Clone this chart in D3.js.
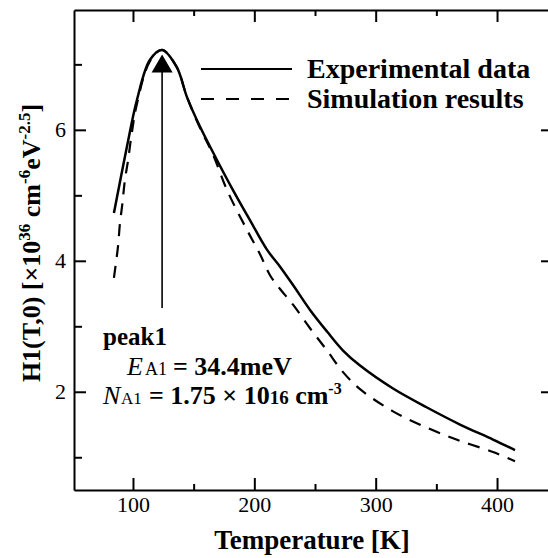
<!DOCTYPE html>
<html>
<head>
<meta charset="utf-8">
<script src="https://cdn.jsdelivr.net/npm/d3@7"></script>
<style>
  body { margin: 0; background: #fff; }
  svg { display: block; font-family: "Liberation Serif", "Times New Roman", serif; }
</style>
</head>
<body>
<svg></svg>
<script>
const width = 548;
const height = 558;

// experimental curve
const expT = [84.3, 95, 103.3, 114, 124, 136, 144.5, 155.2, 169.2, 182.4, 196.4, 210.4, 221.2, 231.9, 245.9, 259.9, 273.1, 287.1, 314.3, 342.3, 369.5, 396.7, 414.8];
const expH = [4.73, 5.74, 6.46, 7.07, 7.22, 6.96, 6.5, 6.05, 5.54, 5.08, 4.62, 4.17, 3.91, 3.63, 3.25, 2.92, 2.63, 2.4, 2.05, 1.76, 1.5, 1.27, 1.11];

// simulation curve
const simT = [84.3, 87.6, 89.3, 91, 93.4, 96, 99, 103.3, 114, 124, 136, 144.5, 155.2, 166, 177.5, 194, 204.7, 212.9, 221.2, 231.9, 245.9, 259.9, 273.1, 287.1, 314.3, 342.3, 369.5, 396.7, 414.8];
const simH = [3.74, 4.21, 4.58, 4.83, 5.24, 5.54, 5.95, 6.4, 7.05, 7.22, 6.96, 6.5, 6.03, 5.62, 5.08, 4.47, 4.1, 3.78, 3.57, 3.33, 2.97, 2.63, 2.3, 2.04, 1.7, 1.45, 1.25, 1.08, 0.94];

const xMajor = [100, 200, 300, 400];
const xMinor = [150, 250, 350];
const yMajor = [2, 4, 6];
const yMinor = [1, 3, 5, 7];

const peakT = 124;
const arrowFrom = 3.28;
const arrowTo = 7.15;

const svg = d3.select('svg')
    .attr('width', width)
    .attr('height', height);

const x = d3.scaleLinear().domain([51.4, 442]).range([74, 548]);
const y = d3.scaleLinear().domain([0.5, 7.83]).range([490, 10]);

const tickFont = g => g.selectAll('text')
    .attr('font-family', '"Liberation Serif", serif')
    .attr('font-size', 22)
    .attr('fill', '#000');

// bottom axis
svg.append('g')
    .attr('transform', 'translate(0,490)')
    .call(d3.axisBottom(x).tickValues(xMajor).tickSize(-12).tickSizeOuter(0).tickPadding(6))
    .call(tickFont)
    .call(g => g.selectAll('line, path').attr('stroke', '#000').attr('stroke-width', 2));
svg.append('g')
    .attr('transform', 'translate(0,490)')
    .call(d3.axisBottom(x).tickValues(xMinor).tickSize(-6).tickFormat(''))
    .call(g => g.select('.domain').remove())
    .call(g => g.selectAll('line').attr('stroke', '#000').attr('stroke-width', 2));

// top axis
svg.append('g')
    .attr('transform', 'translate(0,10)')
    .call(d3.axisTop(x).tickValues(xMajor).tickSize(-12).tickSizeOuter(0).tickFormat(''))
    .call(g => g.selectAll('line, path').attr('stroke', '#000').attr('stroke-width', 2));
svg.append('g')
    .attr('transform', 'translate(0,10)')
    .call(d3.axisTop(x).tickValues(xMinor).tickSize(-6).tickFormat(''))
    .call(g => g.select('.domain').remove())
    .call(g => g.selectAll('line').attr('stroke', '#000').attr('stroke-width', 2));

// left axis
svg.append('g')
    .attr('transform', 'translate(74,0)')
    .call(d3.axisLeft(y).tickValues(yMajor).tickSize(-12).tickSizeOuter(0).tickPadding(8))
    .call(tickFont)
    .call(g => g.selectAll('line, path').attr('stroke', '#000').attr('stroke-width', 2));
svg.append('g')
    .attr('transform', 'translate(74,0)')
    .call(d3.axisLeft(y).tickValues(yMinor).tickSize(-8).tickFormat(''))
    .call(g => g.select('.domain').remove())
    .call(g => g.selectAll('line').attr('stroke', '#000').attr('stroke-width', 2));

// right side ticks (axis line falls at the edge)
svg.append('g')
    .attr('transform', 'translate(548,0)')
    .call(d3.axisRight(y).tickValues(yMajor).tickSize(-7).tickFormat(''))
    .call(g => g.select('.domain').remove())
    .call(g => g.selectAll('line').attr('stroke', '#000').attr('stroke-width', 2));

// curves
const line = d3.line()
    .x(d => x(d[0]))
    .y(d => y(d[1]))
    .curve(d3.curveCatmullRom.alpha(0.5));

svg.append('path')
    .datum(simT.map((t, i) => [t, simH[i]]))
    .attr('d', line)
    .attr('fill', 'none')
    .attr('stroke', '#000')
    .attr('stroke-width', 2.2)
    .attr('stroke-dasharray', '12,9');

svg.append('path')
    .datum(expT.map((t, i) => [t, expH[i]]))
    .attr('d', line)
    .attr('fill', 'none')
    .attr('stroke', '#000')
    .attr('stroke-width', 2.5);

// arrow to the peak
const ax = x(peakT);
svg.append('line')
    .attr('x1', ax).attr('x2', ax)
    .attr('y1', y(arrowFrom)).attr('y2', y(arrowTo) + 16)
    .attr('stroke', '#000').attr('stroke-width', 1.6);
svg.append('path')
    .attr('d', `M${ax},${y(arrowTo)} L${ax - 10.5},${y(arrowTo) + 18} L${ax + 10.5},${y(arrowTo) + 18} Z`)
    .attr('fill', '#000');

// legend
const legend = svg.append('g');
legend.append('line')
    .attr('x1', 201).attr('x2', 292).attr('y1', 69).attr('y2', 69)
    .attr('stroke', '#000').attr('stroke-width', 2);
legend.append('line')
    .attr('x1', 201).attr('x2', 292).attr('y1', 99).attr('y2', 99)
    .attr('stroke', '#000').attr('stroke-width', 2).attr('stroke-dasharray', '13,12');
legend.append('text')
    .attr('x', 307).attr('y', 78)
    .attr('font-size', 28).attr('font-weight', 'bold')
    .text('Experimental data');
legend.append('text')
    .attr('x', 307).attr('y', 108)
    .attr('font-size', 28).attr('font-weight', 'bold')
    .text('Simulation results');

// annotation
const note = svg.append('g').attr('fill', '#000');
note.append('text')
    .attr('x', 103).attr('y', 345)
    .attr('font-size', 25).attr('font-weight', 'bold')
    .text('peak1');

const e = note.append('text').attr('x', 127).attr('y', 375).attr('font-size', 26);
e.append('tspan').attr('font-style', 'italic').text('E');
e.append('tspan').attr('x', 145).attr('font-size', 18).text('A1');
e.append('tspan').attr('x', 173).attr('font-weight', 'bold').text('= 34.4meV');

const n = note.append('text').attr('x', 103).attr('y', 404).attr('font-size', 26);
n.append('tspan').attr('font-style', 'italic').text('N');
n.append('tspan').attr('x', 121).attr('font-size', 17).text('A1');
n.append('tspan').attr('x', 149).attr('font-weight', 'bold').text('= 1.75 × 10');
n.append('tspan').attr('font-size', 19).attr('font-weight', 'bold').text('16');
n.append('tspan').attr('font-weight', 'bold').text(' cm');
n.append('tspan').attr('font-size', 16).attr('font-weight', 'bold').attr('dy', -10).text('-3');

// axis titles
svg.append('text')
    .attr('x', 312).attr('y', 549)
    .attr('text-anchor', 'middle')
    .attr('font-size', 27).attr('font-weight', 'bold')
    .text('Temperature [K]');

const yt = svg.append('text')
    .attr('transform', 'translate(40,243) rotate(-90)')
    .attr('text-anchor', 'middle')
    .attr('font-size', 26).attr('font-weight', 'bold');
yt.append('tspan').text('H1(T,0) [×10');
yt.append('tspan').attr('font-size', 17).attr('dy', -10).text('36');
yt.append('tspan').attr('dy', 10).text(' cm');
yt.append('tspan').attr('font-size', 17).attr('dy', -10).text('-6');
yt.append('tspan').attr('dy', 10).text('eV');
yt.append('tspan').attr('font-size', 17).attr('dy', -10).text('-2.5');
yt.append('tspan').attr('dy', 10).text(']');
</script>
</body>
</html>
